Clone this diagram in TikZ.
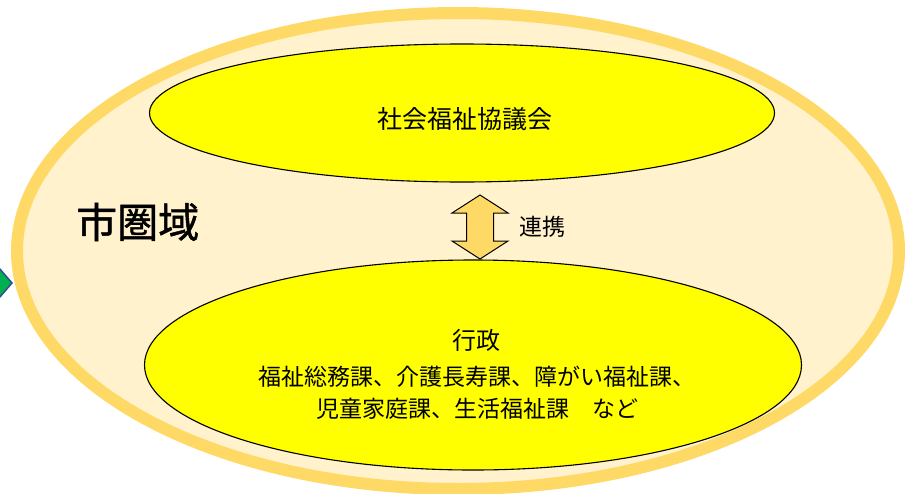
\documentclass[tikz,border=0pt]{standalone}
\usepackage{fontspec}
\setmainfont{Noto Sans CJK JP}
\newfontfamily\regionfont[FakeBold=1.2]{Noto Sans CJK JP}
\usetikzlibrary{shapes.geometric,calc}
\definecolor{bandgold}{HTML}{FFD966}
\definecolor{cream}{HTML}{FFF2CC}
\definecolor{ovalyellow}{HTML}{FFFF00}
\definecolor{greenfill}{HTML}{00B050}
\definecolor{greenedge}{HTML}{2F528F}
\tikzset{
  oval/.style={ellipse, draw=black, line width=1.1pt, fill=ovalyellow, inner sep=0pt},
  lbl/.style={inner sep=0pt, text=black},
}
\begin{document}
\begin{tikzpicture}[x=1pt,y=-1pt]
\useasboundingbox (0,0) rectangle (910,493);
\clip (0,0) rectangle (910,493);
% green diamond partly visible at the left edge
\filldraw[fill=greenfill, draw=greenedge, line width=1.5pt]
  (-52,283) -- (-20,246) -- (12,283) -- (-20,320) -- cycle;
% big region
\node[ellipse, draw=bandgold, fill=cream, line width=12pt, minimum width=882pt, minimum height=476pt, inner sep=0pt] (region) at (458,251) {};
\node[lbl, font=\regionfont\fontsize{41}{43}\selectfont, anchor=west] (regionlbl) at (76,222) {市圏域};
% upper oval
\node[oval, minimum width=625pt, minimum height=138pt] (shakyo) at (462,113) {};
\node[lbl, font=\fontsize{25}{27}\selectfont] (shakyolbl) at (465,119) {社会福祉協議会};
% lower oval
\node[oval, minimum width=657pt, minimum height=210pt] (gyosei) at (473,365) {};
\node[lbl, font=\fontsize{24}{26}\selectfont] (gyoseilbl) at (476,340) {行政};
\node[lbl, font=\fontsize{23}{25}\selectfont] (line1) at (477,377) {福祉総務課、介護長寿課、障がい福祉課、};
\node[lbl, font=\fontsize{23}{25}\selectfont] (line2) at (477,409) {児童家庭課、生活福祉課　など};
% double arrow between the ovals
\coordinate (ac) at (480,227);
\filldraw[fill=bandgold, draw=black, line width=1pt, line join=miter]
  ($(ac)+(0,-32)$) -- ($(ac)+(28,-14)$) -- ($(ac)+(13.5,-14)$) -- ($(ac)+(13.5,14)$)
  -- ($(ac)+(28,14)$) -- ($(ac)+(0,32)$) -- ($(ac)+(-28,14)$) -- ($(ac)+(-13.5,14)$)
  -- ($(ac)+(-13.5,-14)$) -- ($(ac)+(-28,-14)$) -- cycle;
\node[lbl, font=\fontsize{23}{25}\selectfont, anchor=west] (renkei) at (519,227) {連携};
\end{tikzpicture}
\end{document}
